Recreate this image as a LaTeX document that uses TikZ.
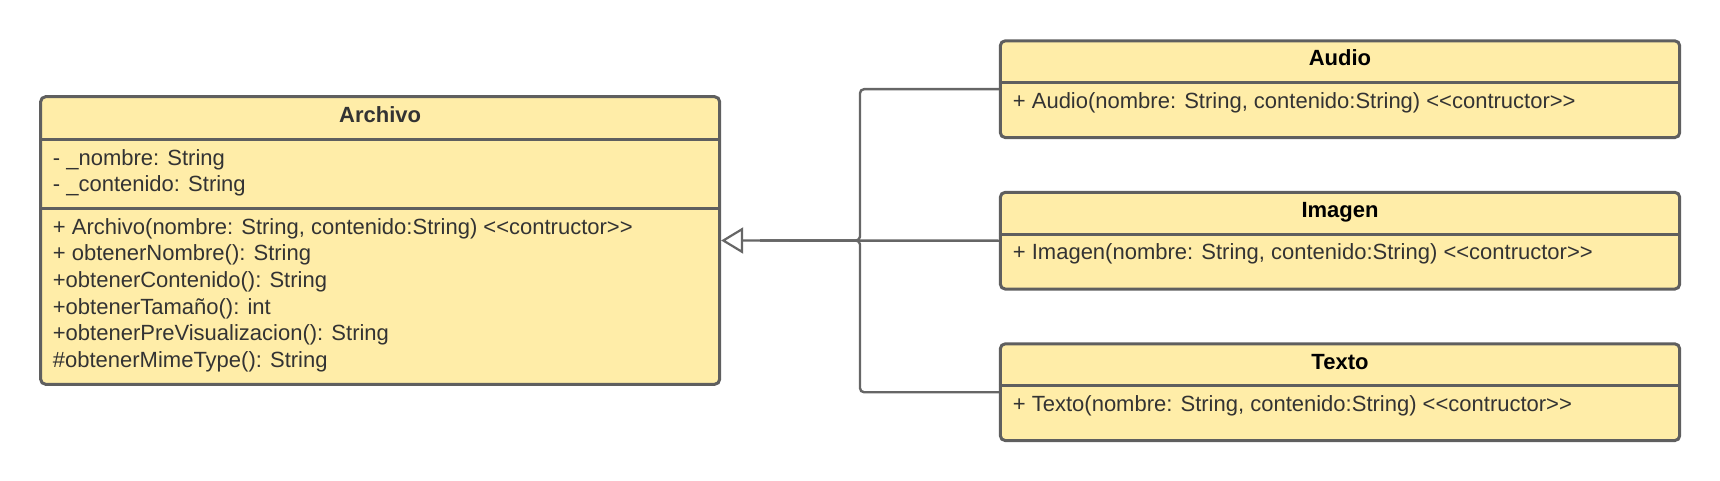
\documentclass[tikz,border=0pt]{standalone}
\usepackage{fontspec}
\setmainfont{Liberation Sans}
\usetikzlibrary{arrows.meta}
\definecolor{boxfill}{HTML}{FFEDA8}
\definecolor{boxline}{HTML}{5F5F5F}
\definecolor{connline}{HTML}{666666}
\definecolor{txt}{HTML}{333333}
\tikzset{
  classbox/.style={draw=boxline, fill=boxfill, line width=3pt, rounded corners=5pt, inner sep=0pt},
  sepline/.style={draw=boxline, line width=3pt},
  conn/.style={draw=connline, line width=2.4pt, rounded corners=4pt},
  gen/.style={-{Triangle[length=22pt, width=26pt, fill=white, line width=2.2pt]}},
  titletxt/.style={anchor=base, inner sep=0pt, font=\fontsize{22}{26}\selectfont\bfseries, text=txt},
  rowtxt/.style={anchor=base west, inner sep=0pt, font=\fontsize{22}{26}\selectfont, text=txt},
}
\begin{document}
\begin{tikzpicture}[x=1pt, y=-1pt]
\useasboundingbox (0,0) rectangle (1720,481);
% Archivo
\node[classbox, minimum width=679pt, minimum height=287.6pt] (archivo) at (380.15,240.5) {};
\draw[sepline] (archivo.west |- 0,139.3) coordinate (a1) -- (archivo.east |- a1);
\draw[sepline] (archivo.west |- 0,208.5) coordinate (a2) -- (archivo.east |- a2);
\node[titletxt] (atitle) at (380.15,122.7) {Archivo};
\node[rowtxt] (aat1) at (52.7,165.7) {- \_nombre: String};
\node[rowtxt] (aat2) at (52.7,192.0) {- \_contenido: String};
\node[rowtxt] (am1) at (52.7,234.2) {+ Archivo(nombre: String, contenido:String) <{}<contructor>{}>};
\node[rowtxt] (am2) at (52.7,260.8) {+ obtenerNombre(): String};
\node[rowtxt] (am3) at (52.7,287.5) {+obtenerContenido(): String};
\node[rowtxt] (am4) at (52.7,314.2) {+obtenerTamaño(): int};
\node[rowtxt] (am5) at (52.7,340.8) {+obtenerPreVisualizacion(): String};
\node[rowtxt] (am6) at (52.7,367.5) {\#obtenerMimeType(): String};
% Audio
\node[classbox, minimum width=679.4pt, minimum height=96.8pt] (audio) at (1340,89.2) {};
\draw[sepline] (audio.west |- 0,82.5) coordinate (b1) -- (audio.east |- b1);
\node[titletxt, text=black] (btitle) at (1340,66) {Audio};
\node[rowtxt] (bm1) at (1012.7,108.3) {+ Audio(nombre: String, contenido:String) <{}<contructor>{}>};
% Imagen
\node[classbox, minimum width=679.4pt, minimum height=96.8pt] (imagen) at (1340,240.7) {};
\draw[sepline] (imagen.west |- 0,234) coordinate (c1) -- (imagen.east |- c1);
\node[titletxt, text=black] (ctitle) at (1340,217.5) {Imagen};
\node[rowtxt] (cm1) at (1012.7,259.8) {+ Imagen(nombre: String, contenido:String) <{}<contructor>{}>};
% Texto
\node[classbox, minimum width=679.4pt, minimum height=96.8pt] (texto) at (1340,392.2) {};
\draw[sepline] (texto.west |- 0,385.5) coordinate (d1) -- (texto.east |- d1);
\node[titletxt, text=black] (dtitle) at (1340,369) {Texto};
\node[rowtxt] (dm1) at (1012.7,411.3) {+ Texto(nombre: String, contenido:String) <{}<contructor>{}>};
% connectors
\coordinate (jx) at (860,240.5);
\coordinate (jbase) at (760,240.5);
\draw[conn] (audio.west) -| (jx) -- (jbase);
\draw[conn] (texto.west) -| (jx) -- (jbase);
\draw[conn, gen] (imagen.west) -- (archivo.east);
\end{tikzpicture}
\end{document}
